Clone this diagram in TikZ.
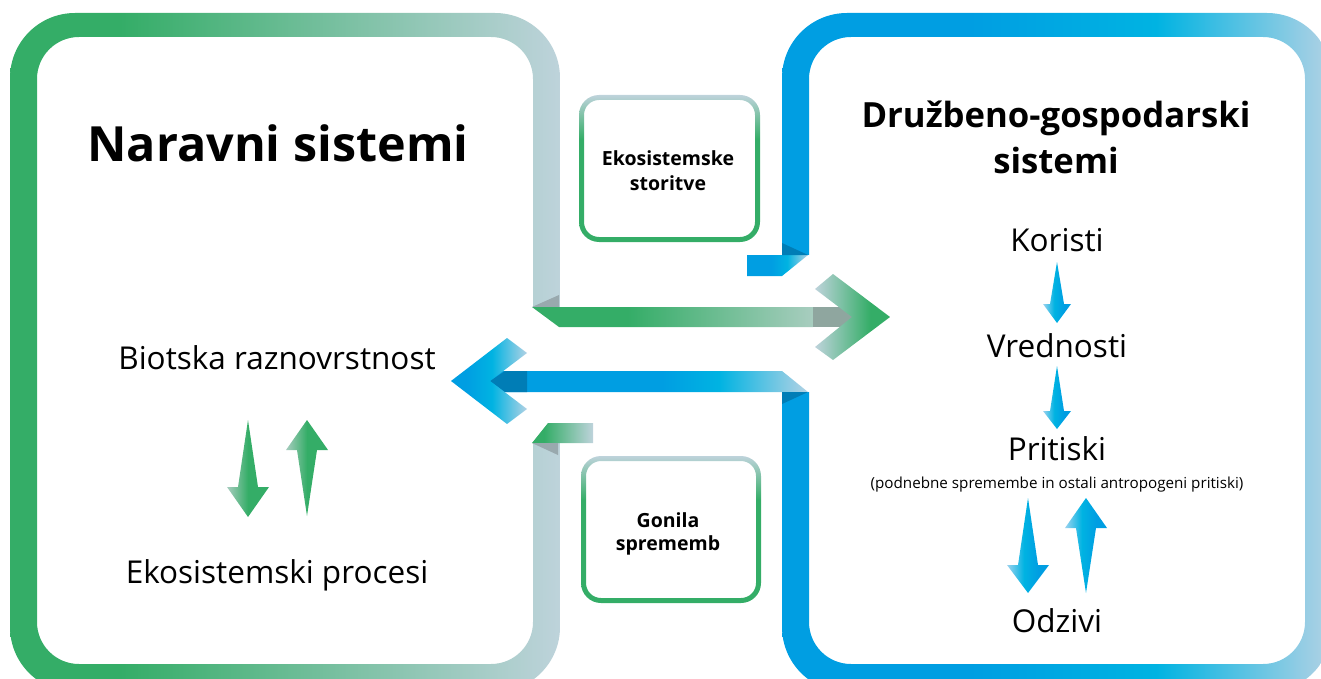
\documentclass[tikz,border=0pt]{standalone}
\usepackage{fontspec}
\setmainfont{Open Sans}
\usepackage{xcolor}

\definecolor{grn}{HTML}{34AD67}
\definecolor{pale}{HTML}{BED3DB}
\definecolor{palegrn}{HTML}{A8CDBF}
\definecolor{blu}{HTML}{009EE2}
\definecolor{cyn}{HTML}{00B3E2}
\definecolor{pblu}{HTML}{B2D2E4}
\definecolor{lblu}{HTML}{9BD3EF}
\definecolor{dblu}{HTML}{007DB6}
\definecolor{dgray}{HTML}{99A9AE}
\definecolor{mgray}{HTML}{8FA69F}

\pgfdeclarehorizontalshading{ringgreen}{100bp}{color(0bp)=(grn); color(35bp)=(grn); color(75bp)=(pale); color(100bp)=(pale)}
\pgfdeclarehorizontalshading{ringblue}{100bp}{color(0bp)=(blu); color(42bp)=(blu); color(59bp)=(cyn); color(75bp)=(pblu); color(100bp)=(pblu)}
\pgfdeclarehorizontalshading{bandgreen}{100bp}{color(0bp)=(grn); color(42bp)=(grn); color(75bp)=(palegrn); color(100bp)=(palegrn)}
\pgfdeclarehorizontalshading{chevgreen}{100bp}{color(0bp)=(pale); color(25bp)=(pale); color(62bp)=(grn); color(100bp)=(grn)}
\pgfdeclarehorizontalshading{bandblue}{100bp}{color(0bp)=(blu); color(52bp)=(blu); color(61bp)=(cyn); color(75bp)=(pblu); color(100bp)=(pblu)}
\pgfdeclarehorizontalshading{chevblue}{100bp}{color(0bp)=(blu); color(35bp)=(blu); color(52bp)=(cyn); color(75bp)=(pblu); color(100bp)=(pblu)}
\pgfdeclarehorizontalshading{flagblue}{100bp}{color(0bp)=(blu); color(45bp)=(blu); color(58bp)=(cyn); color(75bp)=(pblu); color(100bp)=(pblu)}
\pgfdeclareverticalshading{boxgreen}{100bp}{color(0bp)=(grn); color(60bp)=(grn); color(75bp)=(pale); color(100bp)=(pale)}
\pgfdeclarehorizontalshading{arrgreen}{100bp}{color(0bp)=(palegrn); color(25bp)=(palegrn); color(50bp)=(grn); color(100bp)=(grn)}
\pgfdeclarehorizontalshading{arrblue}{100bp}{color(0bp)=(lblu); color(25bp)=(lblu); color(45bp)=(cyn); color(62bp)=(blu); color(100bp)=(blu)}

% x, point end, head base, tip, head half width, shaft half width, shading
\newcommand{\wedgearrow}[7]{%
\shade[shading=#7] (#1,#2) -- ({#1+#6},#3) -- ({#1+#5},#3) -- (#1,#4) -- ({#1-#5},#3) -- ({#1-#6},#3) -- cycle;}

\begin{document}
\begin{tikzpicture}[x=1pt,y=-1pt,
  txt/.style={font=\fontsize{31.5}{38}\selectfont, anchor=base, inner sep=0pt},
  head/.style={font=\bfseries\fontsize{34.7}{42}\selectfont, anchor=base, inner sep=0pt},
  boxtxt/.style={font=\bfseries\fontsize{19.5}{24}\selectfont, anchor=base, inner sep=0pt}]
\useasboundingbox (0,0) rectangle (1321,679);
\clip (0,0) rectangle (1321,679);

% frames
\shade[shading=ringgreen, even odd rule, rounded corners=65pt] (10,13) rectangle (560,692)
  [rounded corners=42pt] (37,37) rectangle (533,664);
\shade[shading=ringblue, even odd rule, rounded corners=65pt] (782,13) rectangle (1332,692)
  [rounded corners=42pt] (809,37) rectangle (1305,664);
\fill[white] (528,307) rectangle (565,443);
\fill[white] (778,255) rectangle (812,392);

% green ribbon to the right
\fill[dgray] (532,307) -- (559,295) -- (559,307) -- cycle;
\shade[shading=bandgreen] (532,307) -- (813,307) -- (813,327) -- (559,327) -- cycle;
\fill[mgray] (813,307) rectangle (852,327);
\shade[shading=chevgreen] (815,289) -- (833,274) -- (890,317) -- (833,360) -- (815,347) -- (852,317) -- cycle;
\shade[shading=ringgreen] (532,443) -- (548,423) -- (593,423) -- (593,443) -- cycle;
\fill[dgray] (532,443) -- (558,443) -- (558,455) -- cycle;

% blue ribbon to the left
\shade[shading=flagblue] (747,255) -- (808,255) -- (782,276) -- (747,276) -- cycle;
\fill[dblu] (782,243) -- (808,255) -- (782,255) -- cycle;
\shade[shading=bandblue] (490,371) -- (782,371) -- (808,392) -- (490,392) -- cycle;
\fill[dblu] (490,381) -- (505,371) -- (527,371) -- (527,392) -- (505,392) -- cycle;
\fill[dblu] (782,392) -- (808,392) -- (782,404) -- cycle;
\shade[shading=chevblue] (451,381) -- (507,338) -- (527,353) -- (490,381) -- (527,409) -- (507,424) -- cycle;

% small boxes
\shade[shading=boxgreen, even odd rule, rounded corners=20pt] (579,95) rectangle (760,242)
  [rounded corners=15pt] (584,100) rectangle (755,237);
\shade[shading=boxgreen, even odd rule, rounded corners=20pt] (581,456) rectangle (761,603)
  [rounded corners=15pt] (586,461) rectangle (756,598);

% small arrows
\wedgearrow{248}{420}{487}{517}{21}{10}{arrgreen}
\wedgearrow{307}{516}{450}{420}{21}{10}{arrgreen}
\wedgearrow{1057}{262}{304}{323}{14}{7}{arrblue}
\wedgearrow{1057}{366}{411}{429}{14}{7}{arrblue}
\wedgearrow{1028}{498}{565}{593}{21}{10}{arrblue}
\wedgearrow{1086}{593}{528}{498}{21}{10}{arrblue}

% texts
\node[head, font=\bfseries\fontsize{48.5}{58}\selectfont] (naravni) at (278,162) {Naravni sistemi};
\node[txt] (biotska) at (277,369) {Biotska raznovrstnost};
\node[txt] (procesi) at (277,583) {Ekosistemski procesi};
\node[head] (dg1) at (1056,128) {Družbeno-gospodarski};
\node[head] (dg2) at (1056,174) {sistemi};
\node[txt] (koristi) at (1057,251) {Koristi};
\node[txt] (vrednosti) at (1057,357) {Vrednosti};
\node[txt] (pritiski) at (1057,460) {Pritiski};
\node[txt, font=\fontsize{15.2}{18}\selectfont] (opomba) at (1057,488) {(podnebne spremembe in ostali antropogeni pritiski)};
\node[txt] (odzivi) at (1057,632) {Odzivi};
\node[boxtxt] (es1) at (668,166) {Ekosistemske};
\node[boxtxt] (es2) at (668,190) {storitve};
\node[boxtxt] (gs1) at (668,527) {Gonila};
\node[boxtxt] (gs2) at (668,550) {sprememb};
\end{tikzpicture}
\end{document}
